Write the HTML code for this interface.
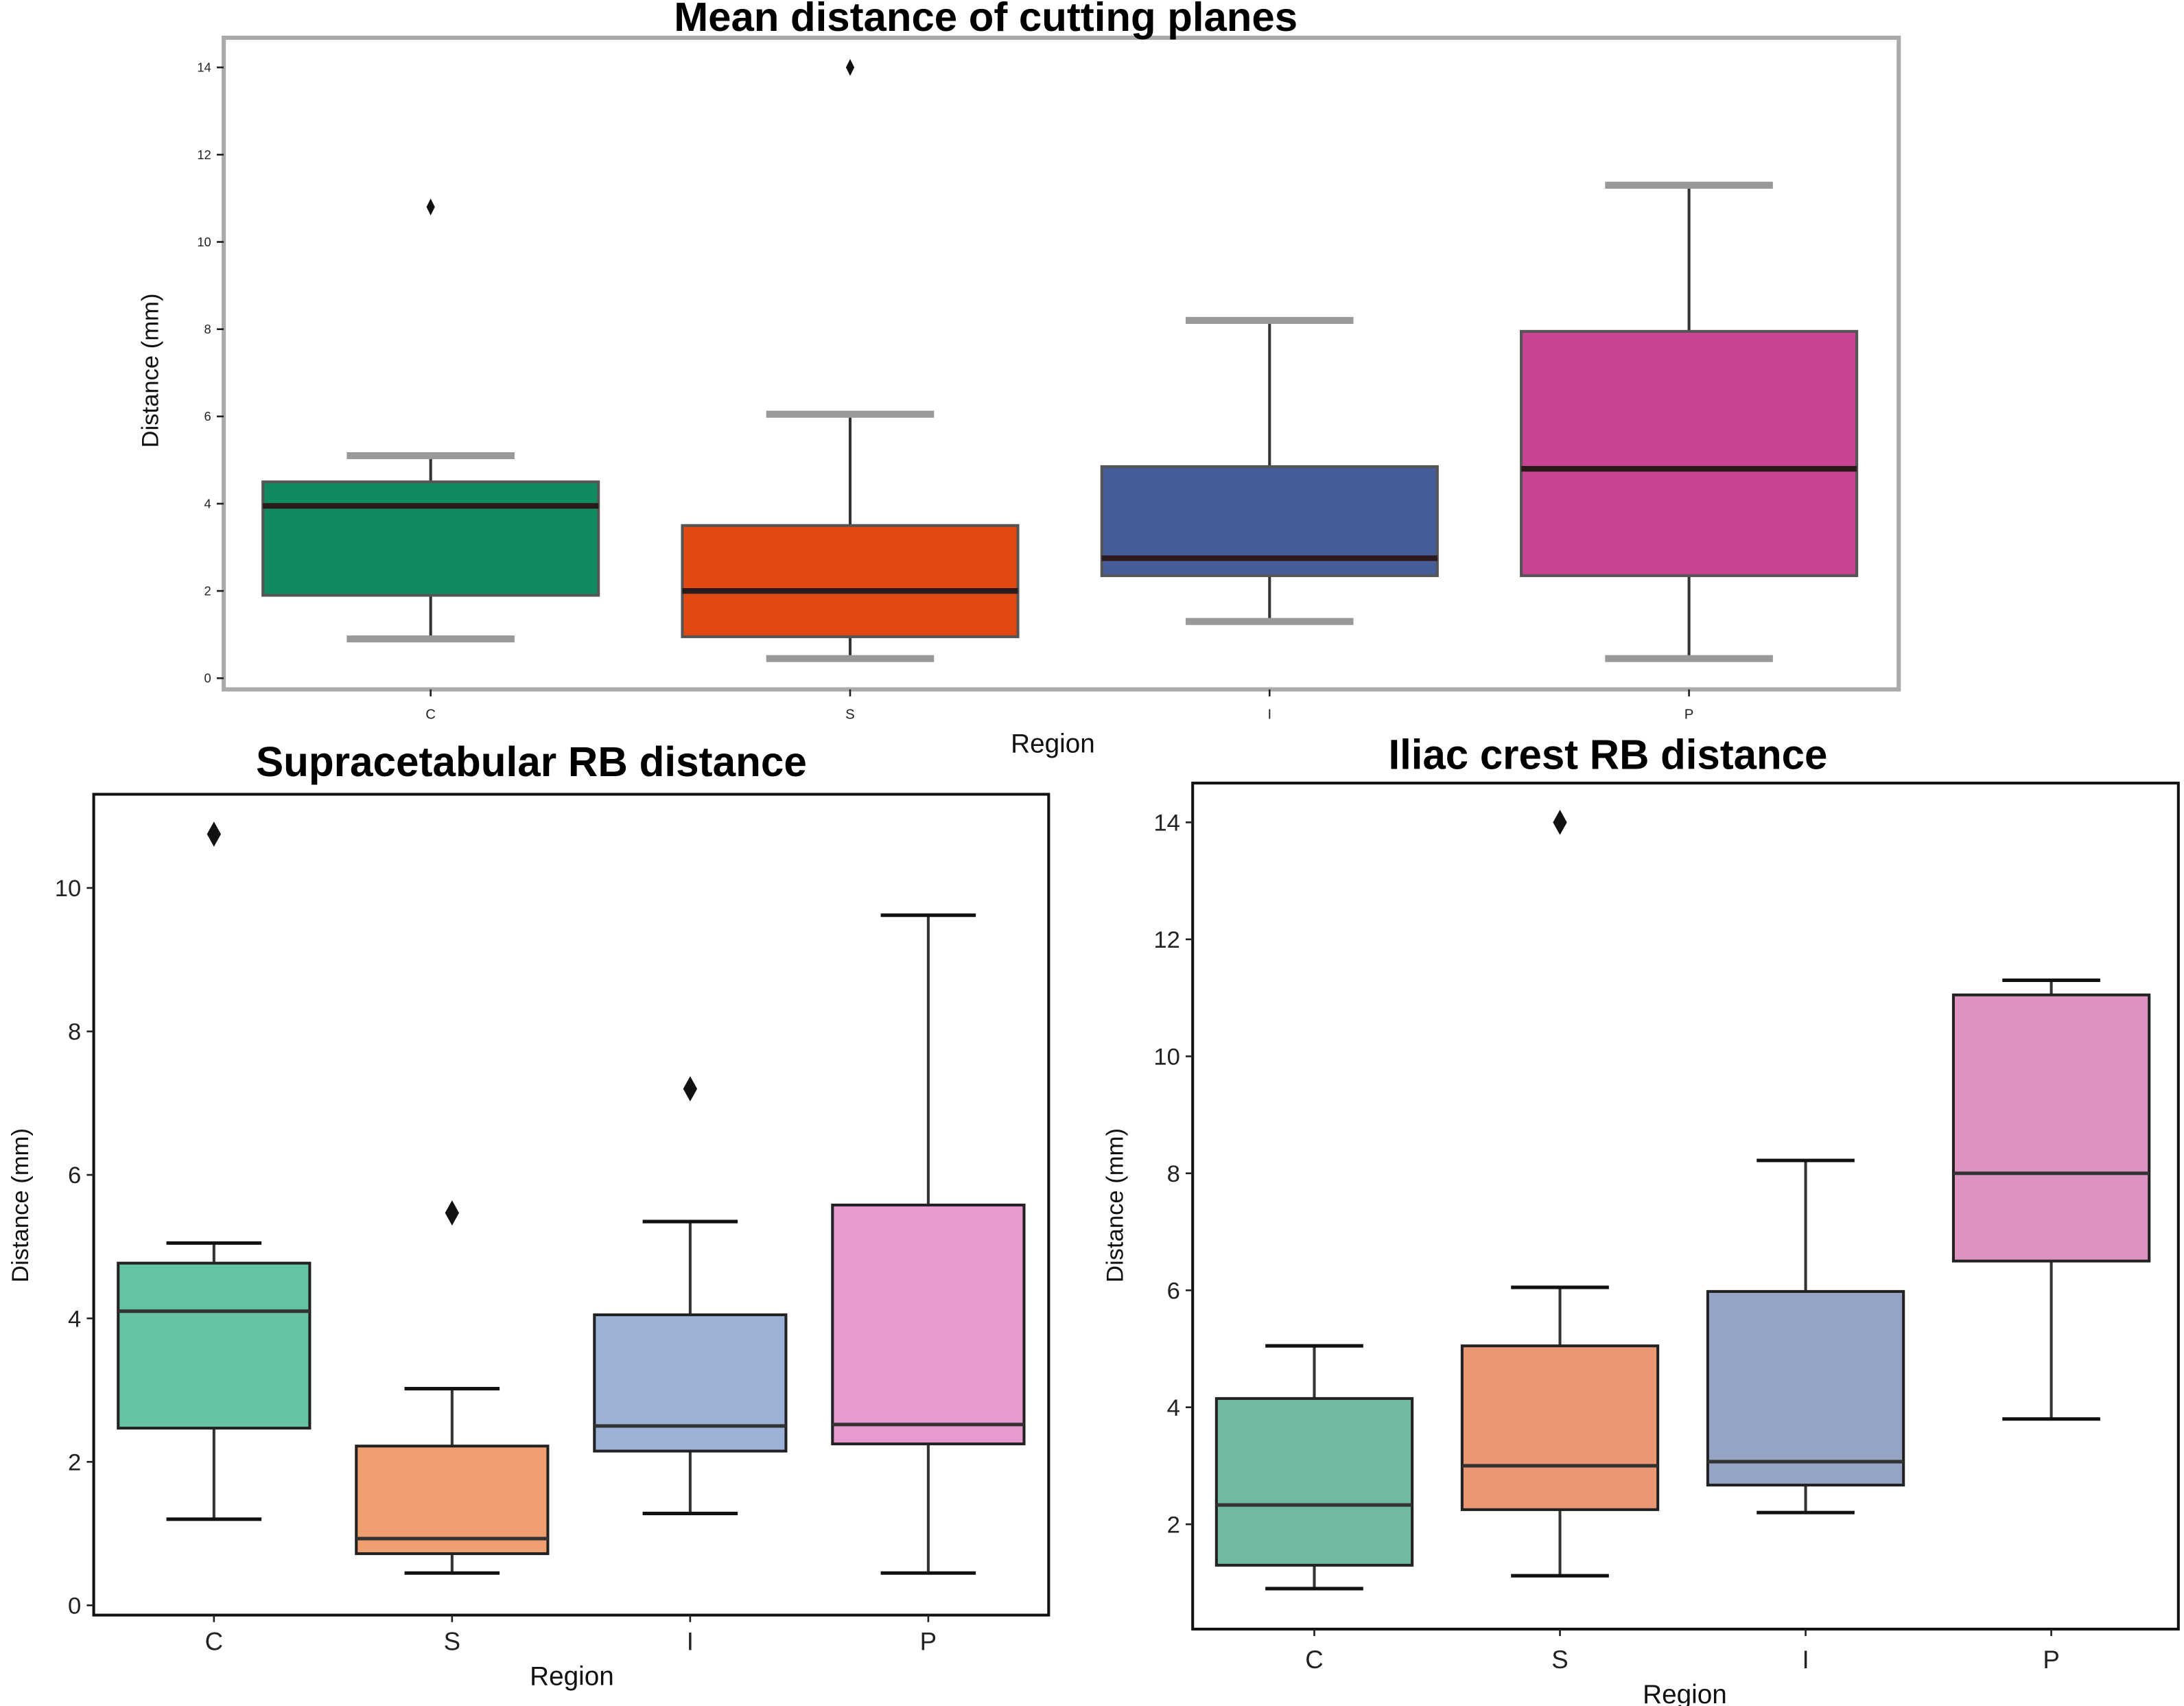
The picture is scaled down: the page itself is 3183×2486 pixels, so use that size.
<!DOCTYPE html>
<html><head><meta charset="utf-8"><style>
html,body{margin:0;padding:0;background:#fff;}
svg{display:block;font-family:"Liberation Sans",sans-serif;}
</style></head><body>
<svg id="fig" width="3183" height="2486" viewBox="0 0 1562 1220" xmlns="http://www.w3.org/2000/svg">
<rect x="0" y="0" width="1562" height="1220" fill="#fff"/>
</svg>
<script>
const categories = ["C","S","I","P"];
// Top: Mean distance of cutting planes
const topWhiskLow = [0.9, 0.45, 1.3, 0.45];
const topQ1 = [1.9, 0.95, 2.35, 2.35];
const topMedian = [3.95, 2.0, 2.75, 4.8];
const topQ3 = [4.5, 3.5, 4.85, 7.95];
const topWhiskHigh = [5.1, 6.05, 8.2, 11.3];
const topOutliers = [[10.8], [14], [], []];
const topTicks = [0, 2, 4, 6, 8, 10, 12, 14];
// Bottom-left: Supracetabular RB distance
const supWhiskLow = [1.2, 0.45, 1.28, 0.45];
const supQ1 = [2.47, 0.72, 2.15, 2.25];
const supMedian = [4.1, 0.93, 2.5, 2.52];
const supQ3 = [4.77, 2.22, 4.05, 5.58];
const supWhiskHigh = [5.05, 3.02, 5.35, 9.62];
const supOutliers = [[10.75], [5.47], [7.2], []];
const supTicks = [0, 2, 4, 6, 8, 10];
// Bottom-right: Iliac crest RB distance
const iliWhiskLow = [0.9, 1.12, 2.2, 3.8];
const iliQ1 = [1.3, 2.25, 2.67, 6.5];
const iliMedian = [2.33, 3.0, 3.07, 8.0];
const iliQ3 = [4.15, 5.05, 5.98, 11.05];
const iliWhiskHigh = [5.05, 6.05, 8.22, 11.3];
const iliOutliers = [[], [14], [], []];
const iliTicks = [2, 4, 6, 8, 10, 12, 14];

const NS = "http://www.w3.org/2000/svg";
const svg = document.getElementById("fig");
function mk(tag, attrs, parent, text){
  const e = document.createElementNS(NS, tag);
  for (const k in attrs) e.setAttribute(k, attrs[k]);
  if (text !== undefined) e.textContent = text;
  (parent || svg).appendChild(e);
  return e;
}

function panel(cfg, lo, q1, med, q3, hi, outs, ticks){
  const g = mk("g", {});
  
  
  const y = v => cfg.y0 - v * cfg.ppu;
  const x = i => cfg.cx0 + i * cfg.step;
  const frame = mk("rect", {x:cfg.fx, y:cfg.fy, width:cfg.fw, height:cfg.fh, fill:"none", stroke:cfg.frameColor, "stroke-width":cfg.frameW}, g);
  
  
  const t = mk("text", {x:cfg.tx, y:cfg.ty, "text-anchor":"middle", "font-weight":"bold", "font-size":cfg.tfs, fill:"#000", textLength:cfg.tlen, lengthAdjust:"spacingAndGlyphs"}, g, cfg.title);
  
  
  ticks.forEach(v => {
    const tk = mk("line", {x1:cfg.fx-5, x2:cfg.fx, y1:y(v), y2:y(v), stroke:"#222", "stroke-width":1.3}, g);
    
    
    const tl = mk("text", {x:cfg.fx-9, y:y(v)+cfg.tkfs*0.35, "text-anchor":"end", "font-size":cfg.tkfs, fill:"#222"}, g, String(v));
    
    
  });
  categories.forEach((c, i) => {
    const cx = x(i);
    const tk = mk("line", {x1:cx, x2:cx, y1:cfg.fy+cfg.fh, y2:cfg.fy+cfg.fh+5, stroke:"#222", "stroke-width":1.3}, g);
    
    
    const xl = mk("text", {x:cx, y:cfg.xly, "text-anchor":"middle", "font-size":cfg.xlfs, fill:"#222"}, g, c);
    
    
    const w1 = mk("line", {x1:cx, x2:cx, y1:y(lo[i]), y2:y(q1[i]), stroke:"#333", "stroke-width":2}, g);
    
    
    const w2 = mk("line", {x1:cx, x2:cx, y1:y(q3[i]), y2:y(hi[i]), stroke:"#333", "stroke-width":2}, g);
    
    
    [lo[i], hi[i]].forEach(v => {
      const cap = mk("line", {x1:cx-cfg.capW/2, x2:cx+cfg.capW/2, y1:y(v), y2:y(v), stroke:cfg.capColor, "stroke-width":cfg.capSW}, g);
      
      
    });
    const b = mk("rect", {x:cx-cfg.bw/2, y:y(q3[i]), width:cfg.bw, height:y(q1[i])-y(q3[i]), fill:cfg.colors[i], stroke:cfg.boxStroke, "stroke-width":2}, g);
    
    
    const m = mk("line", {x1:cx-cfg.bw/2, x2:cx+cfg.bw/2, y1:y(med[i]), y2:y(med[i]), stroke:cfg.medColor, "stroke-width":cfg.medSW}, g);
    
    
    outs[i].forEach(v => {
      const d = mk("path", {d:`M${cx} ${y(v)-cfg.dh} L${cx+cfg.dw} ${y(v)} L${cx} ${y(v)+cfg.dh} L${cx-cfg.dw} ${y(v)} Z`, fill:"#111"}, g);
      
      
    });
  });
  const yl = mk("text", {x:cfg.ylx, y:cfg.yly, "text-anchor":"middle", "font-size":cfg.ylfs, fill:"#111", transform:`rotate(-90 ${cfg.ylx} ${cfg.yly})`}, g, "Distance (mm)");
  
  
  const xt = mk("text", {x:cfg.rx, y:cfg.ry, "text-anchor":"middle", "font-size":cfg.rfs, fill:"#111"}, g, "Region");
  
  
}

panel({name:"mean-distance-chart", title:"Mean distance of cutting planes", tx:705, ty:22, tfs:29, tlen:446,
  fx:160, fy:27, fw:1198, fh:466, frameColor:"#aaa", frameW:3, y0:485, ppu:31.2,
  cx0:308, step:300, bw:240, capW:120, capColor:"#999", capSW:5, boxStroke:"#555",
  medColor:"#2a1a1a", medSW:4, colors:["#118a5f","#e04a12","#465d9a","#c94393"],
  dw:3, dh:6, tkfs:9, xly:514, xlfs:10, ylx:113, yly:265, ylfs:17, rx:753, ry:538, rfs:19},
  topWhiskLow, topQ1, topMedian, topQ3, topWhiskHigh, topOutliers, topTicks);

panel({name:"supracetabular-chart", title:"Supracetabular RB distance", tx:380, ty:555, tfs:30, tlen:394,
  fx:67, fy:568, fw:683, fh:587, frameColor:"#111", frameW:2, y0:1148, ppu:51.3,
  cx0:153, step:170.3, bw:137, capW:68, capColor:"#111", capSW:2.5, boxStroke:"#222",
  medColor:"#333", medSW:2.5, colors:["#66c2a5","#ef9f70","#9db0d5","#e59bce"],
  dw:5, dh:9, tkfs:17, xly:1180, xlfs:18, ylx:20, yly:862, ylfs:17, rx:409, ry:1205, rfs:19},
  supWhiskLow, supQ1, supMedian, supQ3, supWhiskHigh, supOutliers, supTicks);

panel({name:"iliac-crest-chart", title:"Iliac crest RB distance", tx:1150, ty:550, tfs:30, tlen:314,
  fx:853, fy:560, fw:705, fh:605, frameColor:"#111", frameW:2, y0:1173.7, ppu:41.83,
  cx0:940, step:175.7, bw:140, capW:70, capColor:"#111", capSW:2.5, boxStroke:"#222",
  medColor:"#333", medSW:2.5, colors:["#72b9a2","#ea9774","#95a4c4","#dc93bf"],
  dw:5, dh:9, tkfs:17, xly:1193, xlfs:18, ylx:803, yly:862, ylfs:17, rx:1205, ry:1218, rfs:19},
  iliWhiskLow, iliQ1, iliMedian, iliQ3, iliWhiskHigh, iliOutliers, iliTicks);
</script>
</body></html>
